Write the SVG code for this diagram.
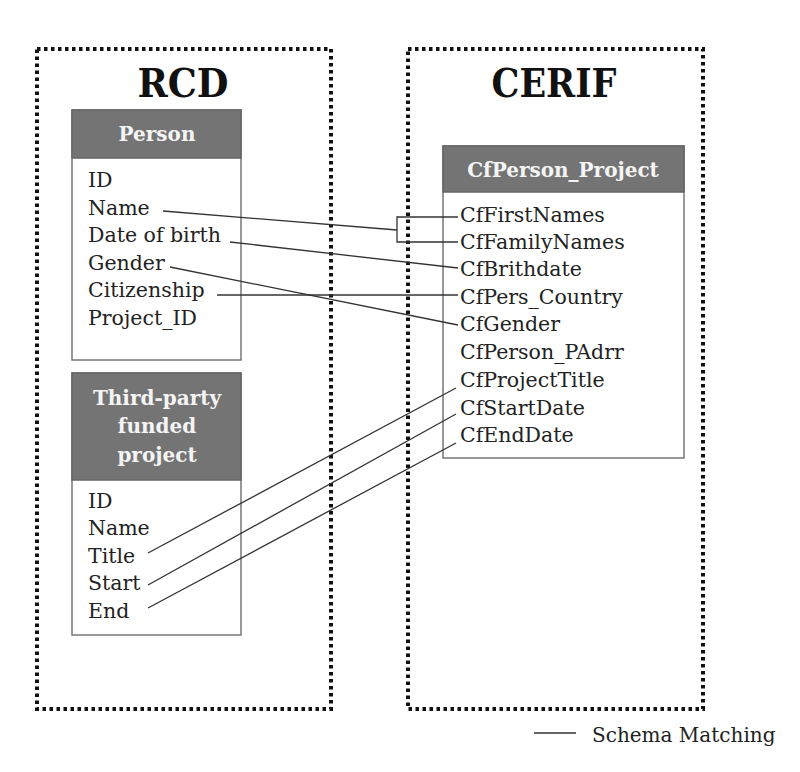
<svg xmlns="http://www.w3.org/2000/svg" width="800" height="772" viewBox="0 0 800 772">
<style>
.frame{fill:none;stroke:#111;stroke-width:4;stroke-dasharray:3.5 3.5}
.title{font-family:"DejaVu Serif","Liberation Serif",serif;font-weight:bold;font-size:40px;fill:#111;text-anchor:middle}
.hdr{fill:#747474;stroke:#666;stroke-width:1.5}
.body{fill:#fff;stroke:#777;stroke-width:1.5}
.htxt{font-family:"DejaVu Serif","Liberation Serif",serif;font-weight:bold;font-size:20px;fill:#f4f4f4;text-anchor:middle}
.item{font-family:"DejaVu Serif","Liberation Serif",serif;font-size:20.5px;fill:#222}
.link{fill:none;stroke:#333;stroke-width:1.3}
</style>
<rect fill="#fff" x="0" y="0" width="800" height="772"/>
<g id="rcd">
<rect class="frame" x="37" y="49" width="294" height="660"/>
<text class="title" x="183" y="97" textLength="91" lengthAdjust="spacingAndGlyphs">RCD</text>
</g>
<g id="cerif">
<rect class="frame" x="408" y="49" width="295" height="660"/>
<text class="title" x="554" y="97" textLength="125" lengthAdjust="spacingAndGlyphs">CERIF</text>
</g>
<g id="person">
<rect class="body" x="72" y="110" width="169" height="250"/>
<rect class="hdr" x="72" y="110" width="169" height="48"/>
<text class="htxt" x="157" y="141">Person</text>
<text class="item" x="88" y="187">ID</text>
<text class="item" x="88" y="215">Name</text>
<text class="item" x="88" y="242">Date of birth</text>
<text class="item" x="88" y="270">Gender</text>
<text class="item" x="88" y="297">Citizenship</text>
<text class="item" x="88" y="325">Project_ID</text>
</g>
<g id="project">
<rect class="body" x="72" y="373" width="169" height="262"/>
<rect class="hdr" x="72" y="373" width="169" height="107"/>
<text class="htxt" x="157" y="405">Third-party</text>
<text class="htxt" x="157" y="433">funded</text>
<text class="htxt" x="157" y="462">project</text>
<text class="item" x="88" y="508">ID</text>
<text class="item" x="88" y="535">Name</text>
<text class="item" x="88" y="563">Title</text>
<text class="item" x="88" y="590">Start</text>
<text class="item" x="88" y="618">End</text>
</g>
<g id="cfperson">
<rect class="body" x="443" y="146" width="241" height="312"/>
<rect class="hdr" x="443" y="146" width="241" height="46"/>
<text class="htxt" x="563" y="177">CfPerson_Project</text>
<text class="item" x="460" y="222">CfFirstNames</text>
<text class="item" x="460" y="249">CfFamilyNames</text>
<text class="item" x="460" y="276">CfBrithdate</text>
<text class="item" x="460" y="304">CfPers_Country</text>
<text class="item" x="460" y="331">CfGender</text>
<text class="item" x="460" y="359">CfPerson_PAdrr</text>
<text class="item" x="460" y="387">CfProjectTitle</text>
<text class="item" x="460" y="415">CfStartDate</text>
<text class="item" x="460" y="442">CfEndDate</text>
</g>
<g id="connectors">
<path class="link" d="M163 211 L397 230"/>
<path class="link" d="M458 217 H397 V242 H458"/>
<path class="link" d="M230 242 L458 268"/>
<path class="link" d="M170 267 L458 325"/>
<path class="link" d="M217 295 H458"/>
<path class="link" d="M148 553 L456 388"/>
<path class="link" d="M148 585 L456 414"/>
<path class="link" d="M148 608 L456 443"/>
</g>
<g id="legend">
<path class="link" d="M534 733 H576"/>
<text class="item" x="592" y="742" style="font-size:20px">Schema Matching</text>
</g>
</svg>
